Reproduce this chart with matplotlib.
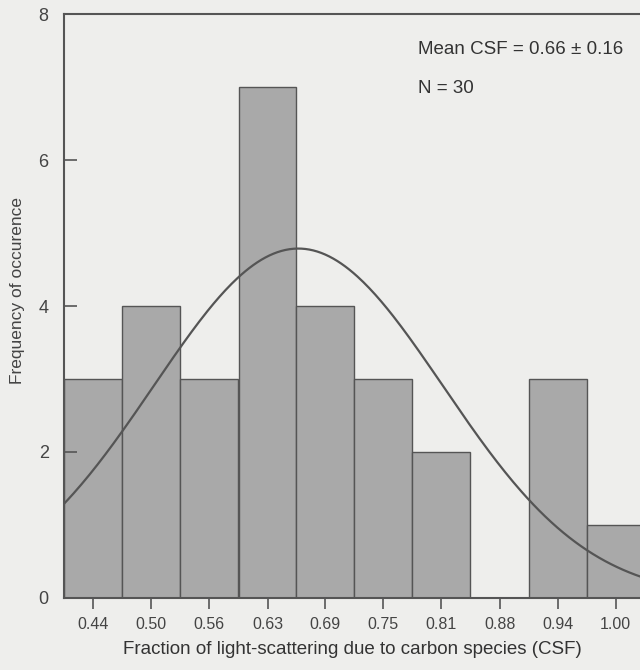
import numpy as np
import matplotlib
matplotlib.use("Agg")
import matplotlib.pyplot as plt

plt.rcParams['font.family'] = ['Liberation Sans', 'DejaVu Sans']

# histogram of carbon scattering fraction
bin_centers = [0.44, 0.502, 0.564, 0.627, 0.689, 0.751, 0.813, 0.876, 0.938, 1.00]
counts = [3, 4, 3, 7, 4, 3, 2, 0, 3, 1]
tick_labels = ['0.44', '0.50', '0.56', '0.63', '0.69', '0.75', '0.81', '0.88', '0.94', '1.00']

# fitted normal curve parameters
mean_csf = 0.66
sd_csf = 0.155
n_obs = 30

bg = '#eeeeec'
ink = '#555555'
bar_col = '#a9a9a9'

fig = plt.figure(figsize=(6.4, 6.7), dpi=100, facecolor=bg)
ax = fig.add_axes([0.1, 0.1075, 0.9, 0.8715])
ax.set_facecolor(bg)

width = bin_centers[1] - bin_centers[0]
ax.bar(bin_centers, counts, width=width, color=bar_col, edgecolor=ink, linewidth=1.0)

x = np.linspace(0.40, 1.04, 300)
y = n_obs * width / (sd_csf * np.sqrt(2 * np.pi)) * np.exp(-0.5 * ((x - mean_csf) / sd_csf) ** 2)
ax.plot(x, y, color=ink, linewidth=1.6)

ax.set_xlim(bin_centers[0] - width / 2, 1.026)
ax.set_ylim(0, 8)
ax.set_xticks(bin_centers)
ax.set_xticklabels(tick_labels)
ax.set_yticks([0, 2, 4, 6, 8])

for s in ['left', 'top', 'bottom']:
    ax.spines[s].set_color(ink)
    ax.spines[s].set_linewidth(1.5)
ax.spines['right'].set_visible(False)

ax.tick_params(axis='y', direction='in', length=9, width=1.2, color=ink,
               labelcolor='#444444', labelsize=13, pad=11)
ax.tick_params(axis='x', direction='out', length=8, width=1.2, color=ink,
               labelcolor='#444444', labelsize=11.5, pad=6)

ax.set_xlabel('Fraction of light-scattering due to carbon species (CSF)',
              fontsize=13.5, color='#333333', labelpad=6)
ax.set_ylabel('Frequency of occurence', fontsize=12.5, color='#444444')
ax.yaxis.set_label_coords(-0.067, 0.527)

ax.text(0.615, 0.94, 'Mean CSF = 0.66 \u00b1 0.16', transform=ax.transAxes,
        fontsize=13.5, color='#333333', va='center')
ax.text(0.615, 0.873, 'N = 30', transform=ax.transAxes,
        fontsize=13.5, color='#333333', va='center')

fig.savefig('out.png', dpi=100, facecolor=bg)
